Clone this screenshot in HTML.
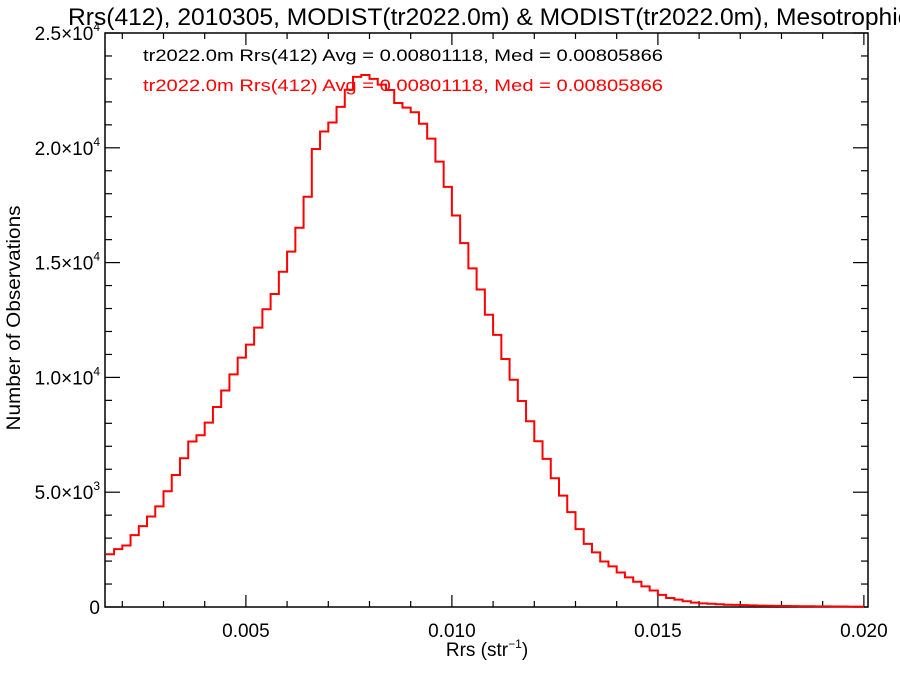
<!DOCTYPE html>
<html><head><meta charset="utf-8"><style>
html,body{margin:0;padding:0;background:#fff;}
svg{display:block;font-family:"Liberation Sans",Arial,sans-serif;}
</style></head><body>
<svg id="chart" width="900" height="675" viewBox="0 0 900 675" xmlns="http://www.w3.org/2000/svg">
<rect x="0" y="0" width="900" height="675" fill="#fff"/>
<text x="68" y="25" font-size="24" fill="#000" textLength="842" lengthAdjust="spacingAndGlyphs">Rrs(412), 2010305, MODIST(tr2022.0m) &amp; MODIST(tr2022.0m), Mesotrophic</text>
<g id="axes"></g>
<g id="series"></g>
<text x="143" y="61" font-size="17" fill="#000" textLength="520" lengthAdjust="spacingAndGlyphs">tr2022.0m Rrs(412) Avg = 0.00801118, Med = 0.00805866</text>
<text x="143" y="91" font-size="17" fill="#ff0000" textLength="520" lengthAdjust="spacingAndGlyphs">tr2022.0m Rrs(412) Avg = 0.00801118, Med = 0.00805866</text>
<text x="487" y="656" font-size="19" text-anchor="middle" fill="#000">Rrs (str<tspan font-size="12" dy="-8">−1</tspan><tspan dy="8">)</tspan></text>
<text x="0" y="0" font-size="19" text-anchor="middle" fill="#000" textLength="225" lengthAdjust="spacingAndGlyphs" transform="translate(20,318) rotate(-90)">Number of Observations</text>
</svg>
<script>
const binStart = 0.0016;
const binWidth = 0.0002;
const counts = [2300,2520,2680,3130,3520,3940,4380,5040,5750,6480,7210,7480,8030,8710,9430,10130,10860,11430,12170,12970,13630,14600,15480,16520,17870,19950,20710,21100,21780,22530,23090,23170,23000,22750,22520,21950,21750,21550,21050,20400,19400,18300,17050,15850,14750,13830,12730,11850,10800,9900,8970,8090,7220,6450,5610,4850,4130,3390,2750,2380,1980,1770,1500,1290,1100,900,720,530,390,320,250,190,160,140,120,100,90,80,70,60,55,50,45,40,35,30,28,25,22,20,18,16];
const xTickValues = [0.005,0.010,0.015,0.020];
const xTickLabels = ["0.005","0.010","0.015","0.020"];
const yTickValues = [0,5000,10000,15000,20000,25000];
const yTickMant = ["0","5.0","1.0","1.5","2.0","2.5"];
const yTickExp = ["","3","4","4","4","4"];

const NS = "http://www.w3.org/2000/svg";
const L = 105, R = 868, T = 33, B = 607;
const xMin = 0.00158, xMax = 0.0201, yMin = 0, yMax = 25000;
function sx(v){ return L + (v - xMin) / (xMax - xMin) * (R - L); }
function sy(v){ return B - (v - yMin) / (yMax - yMin) * (B - T); }
function mk(tag, attrs, parent){ const e = document.createElementNS(NS, tag); for (const k in attrs) e.setAttribute(k, attrs[k]); parent.appendChild(e); return e; }

const axes = document.getElementById('axes');
const frame = mk('rect', {x:L, y:T, width:R-L, height:B-T, fill:'none', stroke:'#000', 'stroke-width':1.5}, axes);



for (let v = 0.002; v <= 0.0200001; v += 0.001) {
  const x = sx(v);
  const major = Math.abs(v/0.005 - Math.round(v/0.005)) < 1e-6;
  const len = major ? 12 : 6;
  const t1 = mk('line', {x1:x, y1:B, x2:x, y2:B-len, stroke:'#000', 'stroke-width':1.2}, axes);
  
  
  const t2 = mk('line', {x1:x, y1:T, x2:x, y2:T+len, stroke:'#000', 'stroke-width':1.2}, axes);
  
  
}
xTickValues.forEach((v, i) => {
  const t = mk('text', {x:sx(v), y:637, 'font-size':19, 'text-anchor':'middle', fill:'#000'}, axes);
  t.textContent = xTickLabels[i];
  
  
});
for (let v = 0; v <= 25000; v += 1000) {
  const y = sy(v);
  const major = v % 5000 === 0;
  const len = major ? 15 : 7;
  const t1 = mk('line', {x1:L, y1:y, x2:L+len, y2:y, stroke:'#000', 'stroke-width':1.2}, axes);
  
  
  const t2 = mk('line', {x1:R, y1:y, x2:R-len, y2:y, stroke:'#000', 'stroke-width':1.2}, axes);
  
  
}
yTickValues.forEach((v, i) => {
  const y = sy(v) + 7;
  const t = mk('text', {x:100, y:y, 'font-size':19, 'text-anchor':'end', fill:'#000'}, axes);
  if (yTickExp[i] === "") {
    t.textContent = yTickMant[i];
  } else {
    const a = document.createElementNS(NS, 'tspan'); a.textContent = yTickMant[i] + "×10"; t.appendChild(a);
    const b = document.createElementNS(NS, 'tspan'); b.setAttribute('font-size', '12'); b.setAttribute('dy', '-9'); b.textContent = yTickExp[i]; t.appendChild(b);
  }
  
  
});

const series = document.getElementById('series');
let d = "";
counts.forEach((c, i) => {
  const x0 = sx(binStart + i*binWidth), x1 = sx(binStart + (i+1)*binWidth);
  const y = sy(c);
  d += (i === 0 ? "M" + Math.max(x0, L) + "," + y : "L" + x0 + "," + y) + "L" + Math.min(x1, R) + "," + y;
});
const p = mk('path', {d:d, fill:'none', stroke:'#ff0000', 'stroke-width':2, 'stroke-linejoin':'miter'}, series);


</script>
</body></html>
